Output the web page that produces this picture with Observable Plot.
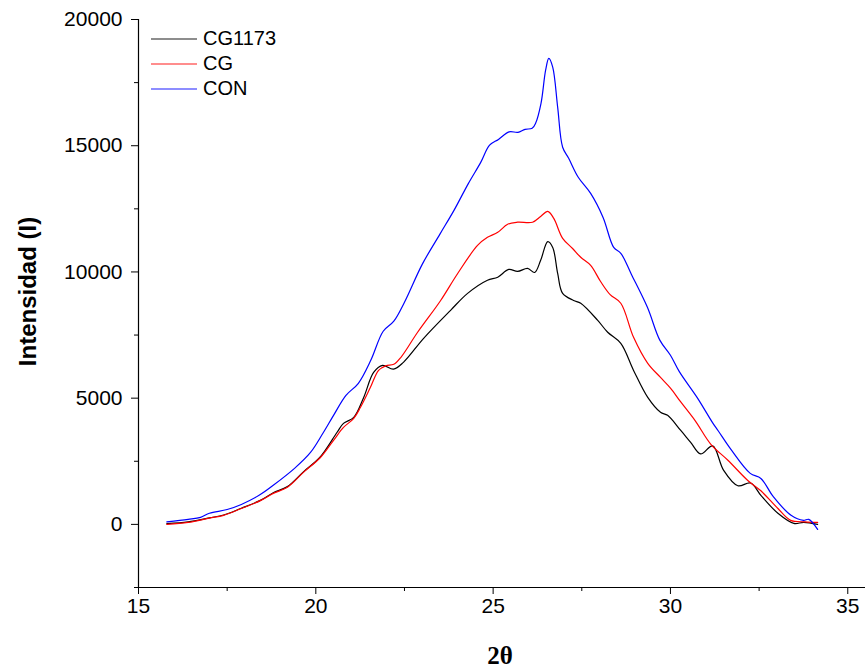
<!DOCTYPE html>
<html><head><meta charset="utf-8">
<script src="https://cdn.jsdelivr.net/npm/d3@7"></script>
<script src="https://cdn.jsdelivr.net/npm/@observablehq/plot@0.6"></script>
<style>
body{margin:0;background:#fff;}
#wrap{position:relative;width:867px;height:669px;}
#legend{position:absolute;left:151px;top:26px;font-family:Arial,"Liberation Sans",sans-serif;font-size:20px;color:#000;}
#legend .row{display:flex;align-items:center;height:25px;}
#legend svg{margin-right:6px;}
</style></head><body><div id="wrap"><div id="legend"></div></div>
<script>
const series = ["CG1173", "CG", "CON"];
const colors = ["#000000", "#ff0000", "#0000ff"];

const xCG1173 = [15.8,16.4,17.0,17.4,17.9,18.45,18.8,19.2,19.65,20.13,20.6,20.78,21.07,21.35,21.63,21.88,22.19,22.47,23.04,23.8,24.28,24.84,25.13,25.44,25.69,25.97,26.17,26.34,26.54,26.68,26.82,26.96,27.27,27.47,27.95,28.23,28.6,28.96,29.36,29.72,29.92,30.29,30.57,30.85,31.19,31.5,31.9,32.26,32.55,33.03,33.48,33.76,34.15];
const yCG1173 = [30,100,260,370,640,960,1250,1500,2080,2680,3650,4000,4240,5030,6020,6300,6150,6420,7370,8480,9150,9670,9790,10100,10020,10140,9980,10460,11200,10970,9940,9150,8870,8760,8080,7610,7170,6100,5030,4440,4320,3720,3250,2790,3110,2140,1530,1640,1150,440,40,80,0];

const xCG = [15.8,16.4,17.0,17.4,17.9,18.45,18.8,19.2,19.65,20.13,20.5,20.78,21.07,21.26,21.54,21.77,21.97,22.2,22.4,22.87,23.52,24.0,24.56,24.84,25.13,25.41,25.69,26.11,26.34,26.54,26.71,26.96,27.24,27.47,27.75,28.03,28.3,28.6,28.96,29.36,29.72,30.0,30.29,30.7,31.14,31.62,32.18,32.55,33.03,33.39,33.8,34.15];
const yCG = [0,80,250,360,630,950,1230,1470,2060,2650,3330,3840,4200,4640,5430,6100,6280,6340,6620,7610,8870,9940,11050,11370,11570,11890,11970,11970,12200,12400,12120,11330,10930,10580,10260,9620,9100,8760,7410,6380,5820,5400,4850,4100,3170,2540,1740,1330,630,160,100,80];

const xCON = [15.8,16.4,16.75,17.0,17.5,17.9,18.4,18.8,19.4,19.85,20.2,20.5,20.85,21.2,21.55,21.9,22.2,22.5,23.0,23.5,23.9,24.3,24.65,24.9,25.15,25.45,25.7,25.9,26.1,26.2,26.35,26.48,26.57,26.68,26.82,26.96,27.13,27.4,27.75,28.1,28.4,28.6,28.9,29.35,29.7,30.0,30.25,30.75,31.2,31.35,31.7,32.25,32.55,32.9,33.4,33.75,33.9,34.15];
const yCON = [100,200,280,440,590,790,1150,1550,2220,2850,3610,4320,5110,5590,6500,7650,8050,8800,10300,11500,12450,13500,14340,15020,15250,15550,15530,15650,15690,15900,16680,17990,18460,18110,16520,14940,14500,13750,13110,12160,10970,10740,9900,8600,7300,6700,6050,5030,4000,3700,2980,2020,1820,1100,360,160,200,-200];

const xTicks = [15, 20, 25, 30, 35];
const xMinor = [17.5, 22.5, 27.5, 32.5];
const yTicks = [0, 5000, 10000, 15000, 20000];
const yMinor = [-2500, 2500, 7500, 12500, 17500];
const xLabel = "2θ";
const yLabel = "Intensidad (I)";

const xs = [xCG1173, xCG, xCON], ys = [yCG1173, yCG, yCON];
const data = [];
series.forEach((s, i) => xs[i].forEach((x, j) => data.push({s, x, y: ys[i][j]})));

const font = "Arial, 'Liberation Sans', sans-serif";
const chart = Plot.plot({
  width: 867, height: 669,
  marginLeft: 138, marginRight: 2, marginTop: 19, marginBottom: 82,
  x: {domain: [15, 35.5]},
  y: {domain: [-2500, 20000]},
  color: {domain: series, range: colors},
  style: {fontFamily: font, fontSize: "21px", color: "#000", background: "#fff"},
  marks: [
    Plot.axisX(xTicks, {tickSize: 7, tickPadding: 4, label: null, fontSize: 21, tickFormat: d => String(d)}),
    Plot.axisX(xMinor, {tickSize: 4, label: null, tickFormat: () => ""}),
    Plot.axisY(yTicks, {tickSize: 7, tickPadding: 9, label: null, fontSize: 21, tickFormat: d => String(d)}),
    Plot.axisY(yMinor, {tickSize: 4, label: null, tickFormat: () => ""}),
    Plot.ruleY([-2500], {stroke: "#000", strokeWidth: 1.2}),
    Plot.ruleX([15], {stroke: "#000", strokeWidth: 1.2}),
    Plot.line(data, {x: "x", y: "y", stroke: "s", z: "s", curve: "catmull-rom", strokeWidth: 1.2}),
    Plot.text([yLabel], {frameAnchor: "left", textAnchor: "middle", dx: -110, dy: -12, rotate: -90, fontSize: 24, fontWeight: "bold", fontFamily: font}),
    Plot.text([xLabel], {frameAnchor: "bottom", dx: -2, dy: 76, fontSize: 25, fontWeight: "bold", fontFamily: "'Times New Roman', 'Liberation Serif', serif"})
  ]
});
document.getElementById("wrap").prepend(chart);

const legend = document.getElementById("legend");
series.forEach((s, i) => {
  const row = document.createElement("div");
  row.className = "row";
  row.innerHTML = `<svg width="46" height="4"><line x1="0" x2="46" y1="2" y2="2" stroke="${colors[i]}" stroke-width="1.3" stroke-opacity="0.6"/></svg><span>${s}</span>`;
  legend.appendChild(row);
});
</script>
</body></html>
